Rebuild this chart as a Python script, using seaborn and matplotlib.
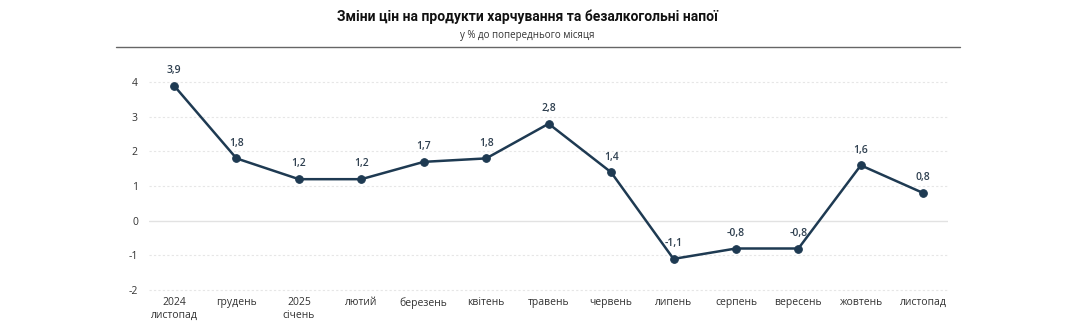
import matplotlib
matplotlib.use("Agg")
import matplotlib.pyplot as plt
import seaborn as sns
import pandas as pd

months = ["2024\nлистопад", "грудень", "2025\nсічень", "лютий", "березень", "квітень",
          "травень", "червень", "липень", "серпень", "вересень", "жовтень", "листопад"]
values = [3.9, 1.8, 1.2, 1.2, 1.7, 1.8, 2.8, 1.4, -1.1, -0.8, -0.8, 1.6, 0.8]
yticks = [-2, -1, 0, 1, 2, 3, 4]

sns.set_theme(style="white")
plt.rcParams['font.family'] = ['Open Sans', 'DejaVu Sans']

df = pd.DataFrame({"x": range(len(months)), "v": values})

fig = plt.figure(figsize=(10.8, 3.29), dpi=100)
ax = fig.add_axes([0.138, 0.113, 0.740, 0.69])

line_color = "#1e3a52"
sns.lineplot(data=df, x="x", y="v", ax=ax, color=line_color, linewidth=1.8,
             marker="o", markersize=5.5, markeredgecolor=line_color, markerfacecolor=line_color)

for xi, v in zip(df["x"], values):
    ax.annotate(f"{v:.1f}".replace(".", ","), (xi, v), xytext=(0, 7), textcoords="offset points",
                ha="center", va="bottom", fontsize=7.5, color="#2f4050", fontweight="semibold")

ax.set_xlim(-0.4, 12.4)
ax.set_ylim(-2.05, 4.5)
ax.set_yticks(yticks)
ax.set_yticklabels([str(t) for t in yticks])
ax.set_xticks(range(len(months)))
ax.set_xticklabels(months)
ax.tick_params(axis="both", length=0, labelsize=7.5, colors="#333333")
ax.tick_params(axis="y", pad=8)
ax.tick_params(axis="x", pad=4)
for t in yticks:
    if t == 0:
        ax.axhline(t, color="#e2e2e2", linewidth=1.0, zorder=0)
    else:
        ax.axhline(t, color="#e6e6e6", linewidth=0.8, linestyle=(0, (2, 2)), zorder=0)
for s in ax.spines.values():
    s.set_visible(False)
ax.set_xlabel("")
ax.set_ylabel("")

fig.text(0.488, 0.950, "Зміни цін на продукти харчування та безалкогольні напої",
         ha="center", va="center", fontsize=10, fontweight="bold", color="#111111",
         family=["Roboto", "DejaVu Sans"])
fig.text(0.488, 0.893, "у % до попереднього місяця", ha="center", va="center",
         fontsize=7, color="#333333")
fig.add_artist(plt.Line2D([0.107, 0.889], [0.857, 0.857], transform=fig.transFigure,
                          color="#666666", linewidth=1.0))

fig.savefig("out.png", dpi=100)
